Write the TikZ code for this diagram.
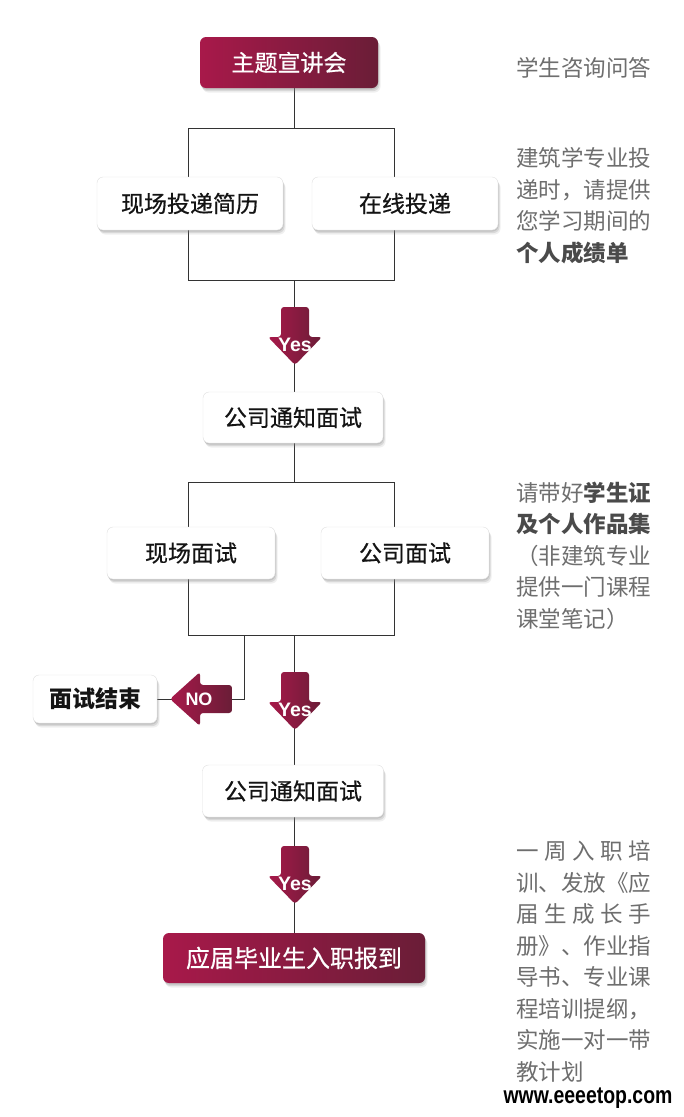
\documentclass[tikz,border=0pt]{standalone}
\usepackage{fontspec}
\setmainfont{Noto Sans CJK SC}
\newfontfamily\boxfont{Noto Sans CJK SC}[FakeBold=0.6]
\newfontfamily\latinfont{Liberation Sans}
\usepackage{tikz}
\usetikzlibrary{calc,positioning,backgrounds,shadows}
\definecolor{crimson}{HTML}{A8194A}
\definecolor{crimsondark}{HTML}{6A1D37}
\definecolor{notegray}{HTML}{6E6E6E}
\definecolor{notedark}{HTML}{4A4A4A}
\definecolor{linegray}{HTML}{333333}
\definecolor{boxtext}{HTML}{141414}

\newcommand{\notebf}[1]{{\bfseries\color{notedark}#1}}
% arrow shapes, drawn round the coordinate of their label
\newcommand{\downshape}[1]{%
  \shade[left color=crimson, right color=crimsondark, rounded corners=3pt]
    ($(#1)+(-14,-38)$) -- ($(#1)+(14,-38)$) -- ($(#1)+(14,-8)$) -- ($(#1)+(27,-8)$)
    -- ($(#1)+(0,20)$) -- ($(#1)+(-27,-8)$) -- ($(#1)+(-14,-8)$) -- cycle;}
\newcommand{\leftshape}[1]{%
  \shade[left color=crimson, right color=crimsondark, rounded corners=3pt]
    ($(#1)+(33,-14)$) -- ($(#1)+(33,14)$) -- ($(#1)+(1,14)$) -- ($(#1)+(1,27)$)
    -- ($(#1)+(-29,0)$) -- ($(#1)+(1,-27)$) -- ($(#1)+(1,-14)$) -- cycle;}

\begin{document}
\begin{tikzpicture}[
  x=1pt, y=-1pt,
  basebox/.style={
    rectangle, rounded corners=6pt, inner sep=0pt,
    drop shadow={shadow xshift=0.5pt, shadow yshift=-1.5pt, opacity=0.25},
    drop shadow={shadow xshift=1.5pt, shadow yshift=-3pt, opacity=0.2},
    drop shadow={shadow xshift=2.5pt, shadow yshift=-4.5pt, opacity=0.12},
  },
  box/.style={basebox, fill=white, draw=black!12, text=boxtext,
    font=\boxfont\fontsize{23}{26}\selectfont},
  keybox/.style={basebox, left color=crimson, right color=crimsondark, text=white,
    font=\boxfont\fontsize{23}{26}\selectfont},
  note/.style={anchor=north west, inner sep=0pt, align=left, text=notegray,
    font=\fontsize{22.5}{31.5}\selectfont},
  signtext/.style={inner sep=0pt, text=white, font=\latinfont\bfseries\fontsize{19.5}{19.5}\selectfont},
  link/.style={draw=linegray, line width=0.8pt},
]
\begin{scope}[on background layer]
  \fill[white] (0,0) rectangle (684,1117);
\end{scope}
\useasboundingbox (0,0) rectangle (684,1117);

% Boxes
\node[keybox, minimum width=178, minimum height=51] (talk) at (289,62.5) {主题宣讲会};
\node[box, minimum width=186, minimum height=53] (onsite) at (190,203.5) {现场投递简历};
\node[box, minimum width=186, minimum height=53] (online) at (405,203.5) {在线投递};
\node[box, minimum width=180, minimum height=51] (notice1) at (293,417.5) {公司通知面试};
\node[box, minimum width=168, minimum height=52] (facesite) at (191,553) {现场面试};
\node[box, minimum width=168, minimum height=52] (facecorp) at (405,553) {公司面试};
\node[box, minimum width=124, minimum height=48, font=\bfseries\fontsize{23}{26}\selectfont] (endbox) at (95,699) {面试结束};
\node[box, minimum width=181, minimum height=52] (notice2) at (293,791) {公司通知面试};
\node[keybox, minimum width=262, minimum height=50, font=\boxfont\fontsize{24}{26}\selectfont] (report) at (294,958) {应届毕业生入职报到};

% Junctions
\coordinate (split1) at (294,128);
\coordinate (join1) at (294,280);
\coordinate (frame1a) at (188,128);
\coordinate (frame1b) at (394,280);
\coordinate (split2) at (294,482);
\coordinate (join2) at (294,635);
\coordinate (frame2a) at (188,482);
\coordinate (frame2b) at (394,635);
\coordinate (nojoin) at (244,635);
\coordinate (yes1) at (295,345);
\coordinate (yes2) at (295,710);
\coordinate (yes3) at (295,884);
\coordinate (no1) at (199,699);

\begin{scope}[on background layer]
  \draw[link] (talk.south -| split1) -- (split1);
  \draw[link] (frame1a) rectangle (frame1b);
  \draw[link] (join1) -- (notice1.north -| join1);
  \draw[link] (notice1.south -| split2) -- (split2);
  \draw[link] (frame2a) rectangle (frame2b);
  \draw[link] (join2) -- (notice2.north -| join2);
  \draw[link] (nojoin) |- (endbox.east);
  \draw[link] (notice2.south -| join2) -- (report.north -| join2);
\end{scope}

% Yes / NO signs
\downshape{yes1}
\downshape{yes2}
\downshape{yes3}
\leftshape{no1}
\node[signtext] (yeslabel1) at (yes1) {Yes};
\node[signtext] (yeslabel2) at (yes2) {Yes};
\node[signtext] (yeslabel3) at (yes3) {Yes};
\node[signtext, font=\latinfont\bfseries\fontsize{18}{18}\selectfont] (nolabel) at (no1) {NO};

% Notes
\node[note] (ask) at (516,57.5) {学生咨询问答};
\node[note] (tip1) at (516,147.5) {建筑学专业投\\递时，请提供\\您学习期间的\\\notebf{个人成绩单}};
\node[note] (tip2) at (516,481.5) {请带好\notebf{学生证}\\\notebf{及个人作品集}\\（非建筑专业\\提供一门课程\\课堂笔记）};
\node[note] (tip3) at (516,840.5) {\makebox[135pt][s]{一\hfill 周\hfill 入\hfill 职\hfill 培}\\训、发放《应\\\makebox[135pt][s]{届\hfill 生\hfill 成\hfill 长\hfill 手}\\册》、作业指\\导书、专业课\\程培训提纲，\\实施一对一带\\教计划};

\node[inner sep=0pt, anchor=base, font=\latinfont\bfseries\fontsize{24}{24}\selectfont] (site) at (588,1103) {\scalebox{0.81}[1]{www.eeeetop.com}};
\end{tikzpicture}
\end{document}
